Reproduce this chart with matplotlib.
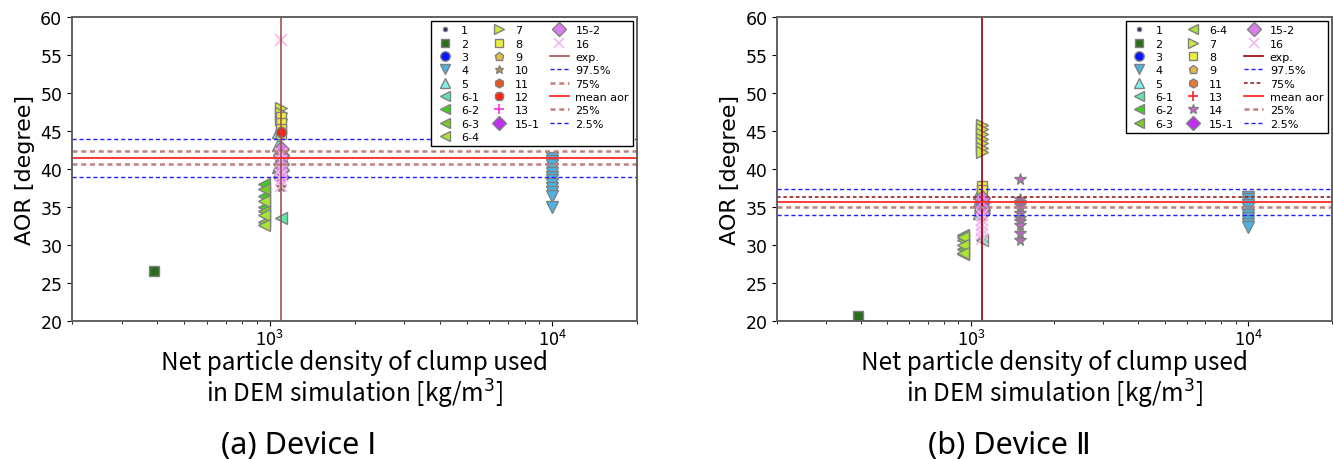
import matplotlib
matplotlib.use("Agg")
import matplotlib.pyplot as plt

# ---- Device I data (density [kg/m3], AOR [deg]) ----
dev1_labels = ['1', '2', '3', '4', '5', '6-1', '6-2', '6-3', '6-4', '7', '8', '9',
               '10', '11', '12', '13', '15-1', '15-2', '16']
dev1_density = [1100, 390, 1100, 10000, 1070, 1100, 960, 960, 960, 1100, 1100, 1100,
                1100, 1100, 1100, 1100, 1100, 1100, 1100]
dev1_aor = [
    [41.5],
    [26.6],
    [41.0],
    [41.5, 41.0, 40.5, 40.0, 39.5, 39.0, 38.5, 38.0, 37.5, 37.0, 36.5, 35.0],
    [44.8, 43.2, 40.3],
    [33.5],
    [38.0, 36.5, 35.0],
    [37.3, 34.5, 33.0],
    [35.8, 34.0, 32.6],
    [48.0, 47.3, 46.6],
    [46.8, 46.0, 45.3, 44.6],
    [42.5],
    [37.6],
    [42.0],
    [44.8],
    [41.2],
    [41.8],
    [42.6, 41.6, 40.6, 39.8, 39.0],
    [57.0, 42.0, 41.0, 40.0, 39.2, 38.5, 37.8],
]
dev1_exp = 1100
dev1_pct = [43.9, 42.3, 41.4, 40.6, 38.9]   # 97.5%, 75%, mean, 25%, 2.5%

# ---- Device II data ----
dev2_labels = ['1', '2', '3', '4', '5', '6-1', '6-2', '6-3', '6-4', '7', '8', '9',
               '11', '13', '14', '15-1', '15-2', '16']
dev2_density = [1100, 390, 1100, 10000, 1070, 1100, 940, 940, 940, 1100, 1100, 1100,
                1100, 1100, 1500, 1100, 1100, 1100]
dev2_aor = [
    [35.5],
    [20.6],
    [35.8],
    [36.3, 36.0, 35.6, 35.2, 34.8, 34.4, 34.0, 33.6, 33.2, 32.8, 32.4],
    [36.8, 35.8, 34.2],
    [30.6],
    [31.3, 29.5],
    [30.6, 28.8],
    [31.0, 30.0, 29.0],
    [45.8, 45.2, 44.6, 44.0, 43.4, 42.8, 42.2],
    [37.8, 37.2],
    [36.0],
    [35.4],
    [35.6],
    [38.7, 36.0, 35.6, 35.2, 34.8, 34.2, 33.6, 33.2, 32.6, 31.6, 30.7],
    [35.6, 34.6],
    [36.2, 35.0, 34.2],
    [34.0, 33.3, 32.6, 32.0, 31.4, 30.8],
]
dev2_exp = 1100
dev2_pct = [37.4, 36.3, 35.6, 35.0, 33.9]

pct_labels = ['97.5%', '75%', 'mean aor', '25%', '2.5%']

# marker style per series label
styles = {
    '1': dict(marker='o', color='#1a1a6e', ms=3.5),
    '2': dict(marker='s', color='#2d6b1f', ms=7),
    '3': dict(marker='o', color='#0a14ff', ms=8),
    '4': dict(marker='v', color='#4ab4e6', ms=8),
    '5': dict(marker='^', color='#7ff0f0', ms=8),
    '6-1': dict(marker='<', color='#5ee8a8', ms=8),
    '6-2': dict(marker='<', color='#3ecf1a', ms=8),
    '6-3': dict(marker='<', color='#7acc2a', ms=8),
    '6-4': dict(marker='<', color='#a8e632', ms=8),
    '7': dict(marker='>', color='#c8ec3c', ms=8),
    '8': dict(marker='s', color='#ecf03c', ms=7.5),
    '9': dict(marker='p', color='#e8c03a', ms=7.5),
    '10': dict(marker='*', color='#c89646', ms=7.5),
    '11': dict(marker='h', color='#f45020', ms=7.5),
    '12': dict(marker='8', color='#ff2010', ms=8),
    '13': dict(marker='+', color='#ff33dd', ms=9),
    '14': dict(marker='*', color='#d060d0', ms=8.5),
    '15-1': dict(marker='D', color='#c030f0', ms=8),
    '15-2': dict(marker='D', color='#da80ee', ms=8),
    '16': dict(marker='x', color='#f0b8f0', ms=8),
}

cjk = ['Noto Sans CJK JP', 'DejaVu Sans']
caption_font = ['Noto Sans', 'DejaVu Sans']


def draw_panel(ax, labels, density, aor, exp_x, pct, exp_color, overrides):
    for lab, x, ys in zip(labels, density, aor):
        st = dict(styles[lab])
        st.update(overrides.get(lab, {}))
        if st['marker'] in ('+', 'x'):
            ax.plot([x] * len(ys), ys, linestyle='none', marker=st['marker'],
                    color=st['color'], markersize=st['ms'], mew=1.2, label=lab)
        else:
            ax.plot([x] * len(ys), ys, linestyle='none', marker=st['marker'],
                    markerfacecolor=st['color'], markeredgecolor='#808080',
                    markersize=st['ms'], mew=1.0, label=lab)

    ax.axvline(exp_x, color=exp_color, lw=1.2, label='exp.')
    ax.axhline(pct[0], color='#2020ff', ls='--', lw=1.0, dashes=(3, 2), label=pct_labels[0])
    ax.axhline(pct[1], color=overrides.get('p75', '#c08080'), ls='--',
               lw=overrides.get('p75w', 1.8), dashes=(2, 1.5), label=pct_labels[1])
    ax.axhline(pct[2], color='#ff2a2a', lw=1.3, label=pct_labels[2])
    ax.axhline(pct[3], color='#c08080', ls='--', lw=1.8, dashes=(2, 1.5), label=pct_labels[3])
    ax.axhline(pct[4], color='#2020ff', ls='--', lw=1.0, dashes=(3, 2), label=pct_labels[4])

    ax.set_xscale('log')
    ax.set_xlim(200, 20000)
    ax.set_ylim(20, 60)
    ax.set_yticks(range(20, 61, 5))
    ax.tick_params(axis='y', labelsize=12.5)
    ax.tick_params(axis='x', labelsize=13, pad=2)
    for t in ax.get_xticklabels():
        t.set_family(cjk)
    for s in ax.spines.values():
        s.set_color('#606060')
        s.set_linewidth(1.4)
    ax.set_ylabel('AOR [degree]', fontsize=16, labelpad=4)
    ax.set_xlabel('Net particle density of clump used\nin DEM simulation [kg/m$^3$]',
                  fontsize=17.5, family=cjk, labelpad=0, linespacing=1.1)
    leg = ax.legend(loc='upper right', ncol=3, fontsize=8, frameon=True, fancybox=False,
                    edgecolor='black', framealpha=1, labelspacing=0.3, columnspacing=0.9,
                    handlelength=1.7, handletextpad=0.6, borderaxespad=0.35, borderpad=0.4,
                    markerscale=0.85)
    leg.get_frame().set_linewidth(1.0)


fig = plt.figure(figsize=(13.33, 4.6), dpi=100)
ax1 = fig.add_axes([0.054, 0.30, 0.424, 0.661])
ax2 = fig.add_axes([0.583, 0.30, 0.416, 0.661])

draw_panel(ax1, dev1_labels, dev1_density, dev1_aor, dev1_exp, dev1_pct, '#a85050', {})
draw_panel(ax2, dev2_labels, dev2_density, dev2_aor, dev2_exp, dev2_pct, '#990000',
           {'9': dict(color='#e6b83c'), '11': dict(color='#f07830'),
            '13': dict(color='#ff2020'), 'p75': '#a03030', 'p75w': 1.3})

fig.text(0.224, 0.03, '(a) Device Ⅰ', fontsize=22, family=caption_font, ha='center', va='center')
fig.text(0.757, 0.03, '(b) Device Ⅱ', fontsize=22, family=caption_font, ha='center', va='center')

fig.savefig('out.png', dpi=100)
